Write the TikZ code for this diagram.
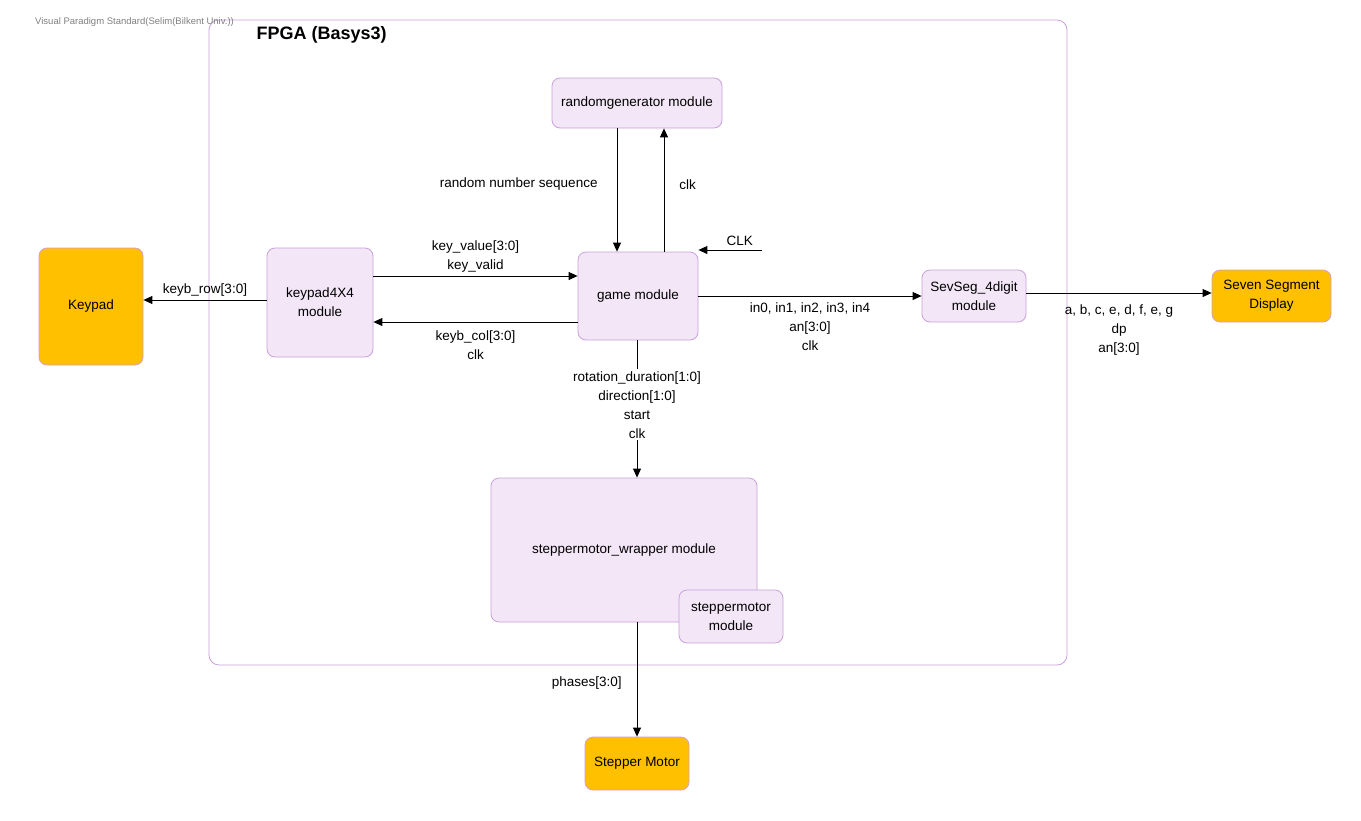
\documentclass[tikz,border=0pt]{standalone}
\usepackage{fontspec}
\setmainfont{Liberation Sans}
\usetikzlibrary{arrows.meta}
\definecolor{modfill}{HTML}{F3E6F7}
\definecolor{modline}{HTML}{C9A0DA}
\definecolor{devfill}{HTML}{FFC000}
\definecolor{devline}{HTML}{D8A0C0}
\begin{document}
\begin{tikzpicture}[x=1pt, y=-1pt,
  every node/.style = {align=center, font=\fontsize{13.5}{19}\selectfont},
  module/.style = {draw=modline, fill=modfill, rounded corners=8pt, line width=0.8pt},
  device/.style = {draw=devline, fill=devfill, rounded corners=8pt, line width=0.8pt},
  lbl/.style = {inner sep=1pt},
  arr/.style = {-{Triangle[length=9pt, width=8pt]}, line width=0.9pt}]
  \useasboundingbox (0,0) rectangle (1361,820);
  % FPGA board frame
  \draw[modline, line width=0.8pt, rounded corners=10pt] (209,20) rectangle (1067,665);
  \node[anchor=west, font=\bfseries\fontsize{18}{20}\selectfont] (title) at (253,35) {FPGA (Basys3)};
  \node[anchor=west, text=gray, font=\fontsize{9.5}{10}\selectfont, inner sep=0pt] (wm) at (35,22) {Visual Paradigm Standard(Selim(Bilkent Univ.))};
  % blocks
  \node[device, minimum width=104, minimum height=117] (keypad) at (91,306.5) {Keypad};
  \node[module, minimum width=106, minimum height=109] (kpmod) at (320,302.5) {keypad4X4\\module};
  \node[module, minimum width=170, minimum height=50] (rng) at (637,103) {randomgenerator module};
  \node[module, minimum width=120, minimum height=88] (game) at (638,296) {game module};
  \node[module, minimum width=104, minimum height=52] (sevseg) at (974,296) {SevSeg\_4digit\\module};
  \node[device, minimum width=119, minimum height=52] (ssd) at (1271.5,296) {Seven Segment\\Display};
  \node[module, minimum width=266, minimum height=144] (wrap) at (624,550) {steppermotor\_wrapper module};
  \node[module, minimum width=104, minimum height=53] (stepmod) at (731,616.5) {steppermotor\\module};
  \node[device, minimum width=104, minimum height=53] (motor) at (637,763.5) {Stepper Motor};
  \coordinate (clkin) at (762,250);
  % connections
  \draw[arr] (kpmod.west |- 0,300) -- (keypad.east |- 0,300)
    node[lbl, midway, above=2pt] {keyb\_row[3:0]};
  \draw[arr] (kpmod.east |- 0,276) -- (game.west |- 0,276)
    node[lbl, midway, above=2pt] {key\_value[3:0]\\key\_valid};
  \draw[arr] (game.west |- 0,322) -- (kpmod.east |- 0,322)
    node[lbl, midway, below=7pt] {keyb\_col[3:0]\\clk};
  \draw[arr] (rng.south -| 617,0) -- (game.north -| 617,0)
    node[lbl, pos=0.45, left=18pt] {random number sequence};
  \draw[arr] (game.north -| 664,0) -- (rng.south -| 664,0)
    node[lbl, pos=0.54, right=14pt] {clk};
  \draw[arr] (clkin) -- (game.north east |- clkin)
    node[lbl, pos=0.35, above=3pt] {CLK};
  \draw[arr] (game.east) -- (sevseg.west)
    node[lbl, midway, below=5pt] {in0, in1, in2, in3, in4\\an[3:0]\\clk};
  \draw[arr] (sevseg.east |- 0,293) -- (ssd.west |- 0,293)
    node[lbl, midway, below=10pt] {a, b, c, e, d, f, e, g\\dp\\an[3:0]};
  \draw[arr] (game.south -| 637,0) -- (wrap.north -| 637,0)
    node[lbl, pos=0.47, fill=white, inner sep=2pt] {rotation\_duration[1:0]\\direction[1:0]\\start\\clk};
  \draw[arr] (wrap.south -| 637,0) -- (motor.north)
    node[lbl, pos=0.53, left=14pt] {phases[3:0]};
\end{tikzpicture}
\end{document}
